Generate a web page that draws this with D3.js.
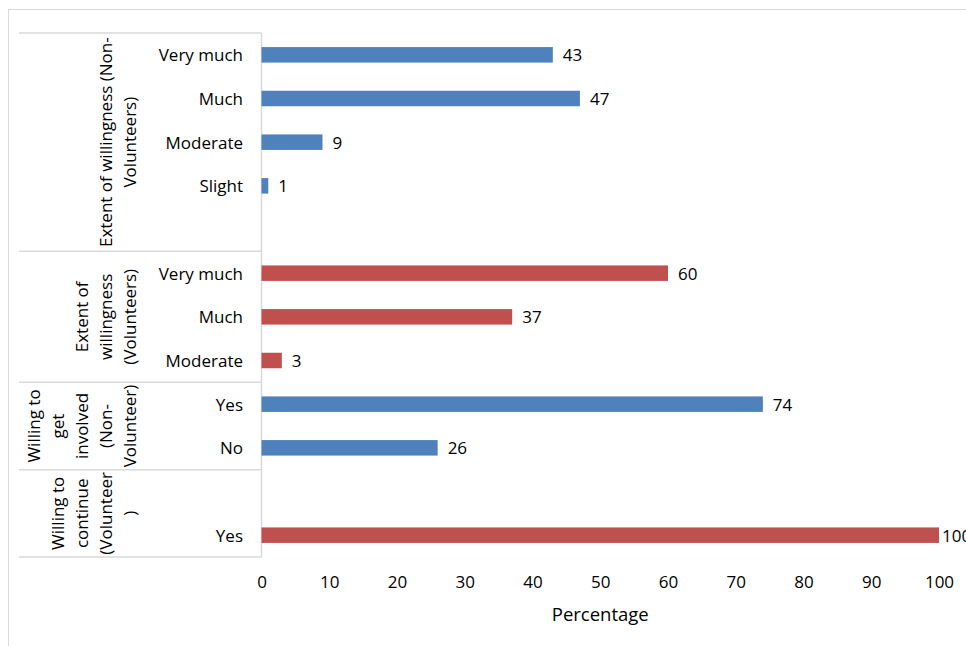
<!DOCTYPE html>
<html>
<head>
<meta charset="utf-8">
<script src="https://cdn.jsdelivr.net/npm/d3@7/dist/d3.min.js"></script>
<style>
  html, body { margin: 0; padding: 0; background: #fff; }
  svg { display: block; }
  text { font-family: "Open Sans", "DejaVu Sans", sans-serif; fill: #000; }
</style>
</head>
<body>
<svg id="chart" width="966" height="646"></svg>
<script>
// Row categories, top to bottom (blank rows separate the groups)
const rowLabels = ["Very much", "Much", "Moderate", "Slight", "",
                   "Very much", "Much", "Moderate",
                   "Yes", "No",
                   "", "Yes"];
// Percentage for each row (null = empty row)
const rowValues = [43, 47, 9, 1, null, 60, 37, 3, 74, 26, null, 100];
// Which respondent type each row belongs to
const rowSeries = ["Non-Volunteers", "Non-Volunteers", "Non-Volunteers", "Non-Volunteers", null,
                   "Volunteers", "Volunteers", "Volunteers",
                   "Non-Volunteers", "Non-Volunteers",
                   null, "Volunteers"];
// Outer category groups: wrapped label lines and number of rows spanned
const groupLines = [
  ["Extent of willingness (Non-", "Volunteers)"],
  ["Extent of", "willingness", "(Volunteers)"],
  ["Willing to", "get", "involved", "(Non-", "Volunteer)"],
  ["Willing to", "continue", "(Volunteer", ")"]
];
const groupRows = [5, 3, 2, 2];
const xTicks = [0, 10, 20, 30, 40, 50, 60, 70, 80, 90, 100];
const xTitle = "Percentage";

const seriesColor = d3.scaleOrdinal()
  .domain(["Non-Volunteers", "Volunteers"])
  .range(["#4F81BD", "#C0504D"]);

const svg = d3.select("#chart");
const W = 966, H = 646;
const FS = 17;

// Outer chart frame
svg.append("rect")
  .attr("x", 8.5).attr("y", 9.5)
  .attr("width", W).attr("height", H)
  .attr("fill", "none").attr("stroke", "#d9d9d9").attr("stroke-width", 1);

const plotLeft = 261.5, plotRight = 939, plotTop = 33, plotBottom = 557;

const x = d3.scaleLinear().domain([0, 100]).range([plotLeft, plotRight]);
const y = d3.scaleBand()
  .domain(d3.range(rowLabels.length))
  .range([plotTop, plotBottom])
  .paddingInner(0.645)
  .paddingOuter(0.3225);
const rowStep = y.step();

// Category table lines
const grid = svg.append("g").attr("stroke", "#d9d9d9").attr("stroke-width", 1.5);
grid.append("line")
  .attr("x1", plotLeft).attr("x2", plotLeft)
  .attr("y1", plotTop).attr("y2", plotBottom);
let startRow = 0;
const groupSpans = groupRows.map(n => {
  const span = [startRow, startRow + n];
  startRow += n;
  return span;
});
const boundaries = [0].concat(groupSpans.map(s => s[1]));
boundaries.forEach(r => {
  const yy = plotTop + r * rowStep;
  grid.append("line")
    .attr("x1", 19).attr("x2", plotLeft)
    .attr("y1", yy).attr("y2", yy);
});

// Bars
const rows = rowLabels.map((label, i) => ({ i, label, value: rowValues[i], series: rowSeries[i] }));
const barRows = rows.filter(d => d.value !== null);

svg.append("g").selectAll("rect")
  .data(barRows)
  .join("rect")
  .attr("x", x(0))
  .attr("y", d => y(d.i))
  .attr("width", d => x(d.value) - x(0))
  .attr("height", y.bandwidth())
  .attr("fill", d => seriesColor(d.series));

// Value labels at bar ends (kept just past the plot edge)
svg.append("g").selectAll("text")
  .data(barRows)
  .join("text")
  .attr("x", d => Math.min(x(d.value) + 10, 942))
  .attr("y", d => y(d.i) + y.bandwidth() / 2)
  .attr("dominant-baseline", "central")
  .attr("font-size", FS)
  .text(d => d.value);

// Inner category labels
svg.append("g").selectAll("text")
  .data(rows.filter(d => d.label))
  .join("text")
  .attr("x", 243)
  .attr("y", d => y(d.i) + y.bandwidth() / 2)
  .attr("text-anchor", "end")
  .attr("dominant-baseline", "central")
  .attr("font-size", FS)
  .text(d => d.label);

// Outer group labels, rotated, wrapped lines stacked toward the table
const lineGap = 24;
groupLines.forEach((lines, g) => {
  const [r0, r1] = groupSpans[g];
  const cy = plotTop + (r0 + r1) / 2 * rowStep;
  const n = lines.length;
  lines.forEach((ln, k) => {
    const cx = 129 - lineGap * (n - 1 - k);
    svg.append("text")
      .attr("transform", `translate(${cx},${cy}) rotate(-90)`)
      .attr("text-anchor", "middle")
      .attr("dominant-baseline", "central")
      .attr("font-size", FS)
      .text(ln);
  });
});

// X axis (labels only)
const xAxis = d3.axisBottom(x).tickValues(xTicks).tickSize(0).tickPadding(0);
const ax = svg.append("g")
  .attr("transform", `translate(0,${plotBottom})`)
  .call(xAxis);
ax.select(".domain").remove();
ax.selectAll("text")
  .attr("y", 24)
  .attr("dy", null)
  .attr("dominant-baseline", "central")
  .attr("font-size", FS)
  .attr("font-family", "\"Open Sans\", \"DejaVu Sans\", sans-serif")
  .attr("fill", "#000");

svg.append("text")
  .attr("x", (plotLeft + plotRight) / 2)
  .attr("y", 613)
  .attr("text-anchor", "middle")
  .attr("dominant-baseline", "central")
  .attr("font-size", 18.5)
  .text(xTitle);
</script>
</body>
</html>
